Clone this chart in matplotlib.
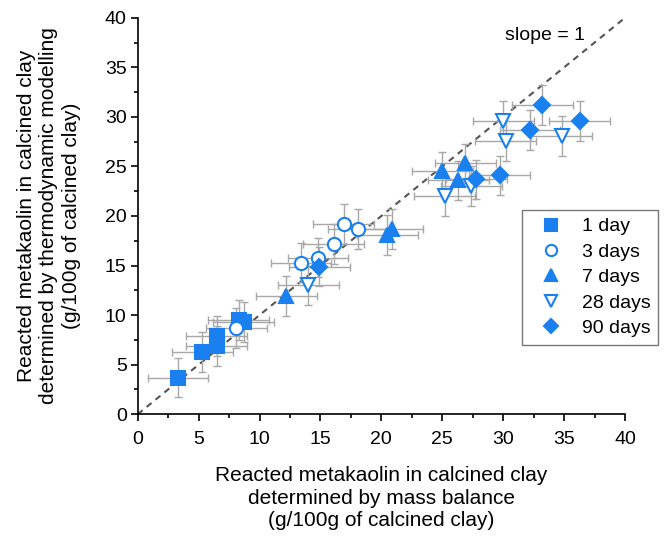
import matplotlib
matplotlib.use('Agg')
import matplotlib.pyplot as plt
import numpy as np
from matplotlib.ticker import MultipleLocator

plt.rcParams['font.family'] = ['Liberation Sans', 'DejaVu Sans']

# Data (x: mass balance, y: thermodynamic modelling)
x_1d = [3.3, 5.3, 6.5, 6.5, 8.3, 8.7]
y_1d = [3.7, 6.3, 6.9, 7.9, 9.5, 9.3]
x_3d = [8.1, 13.4, 14.8, 16.1, 16.9, 18.1]
y_3d = [8.7, 15.3, 15.8, 17.2, 19.2, 18.7]
x_7d = [12.2, 20.5, 20.9, 25.0, 26.9, 26.3]
y_7d = [11.9, 18.1, 18.7, 24.5, 25.3, 23.6]
x_28d = [14.0, 25.2, 27.4, 30.0, 30.2, 34.8]
y_28d = [13.0, 22.0, 23.0, 29.6, 27.6, 28.1]
x_90d = [14.9, 27.8, 29.7, 32.2, 33.2, 36.3]
y_90d = [14.9, 23.7, 24.1, 28.7, 31.2, 29.6]

x_err = 2.5
y_err = 2.0

blue = '#1a80f0'
grey = '#a8a8a8'

series = [
    (x_1d, y_1d, 's', 9.5, blue, '1 day'),
    (x_3d, y_3d, 'o', 9.5, 'white', '3 days'),
    (x_7d, y_7d, '^', 10.5, blue, '7 days'),
    (x_28d, y_28d, 'v', 10.5, 'white', '28 days'),
    (x_90d, y_90d, 'D', 8.5, blue, '90 days'),
]

fig = plt.figure(figsize=(6.72, 5.4), dpi=100)
ax = fig.add_axes([0.205, 0.233, 0.725, 0.734])

# slope = 1 line
ax.plot([0, 40], [0, 40], ls=(0, (3, 2.5)), color='#555555', lw=1.5, zorder=1)
ax.text(33.4, 38.2, 'slope = 1', ha='center', va='center', fontsize=14)

for xs, ys, m, ms, fc, lab in series:
    ax.errorbar(xs, ys, xerr=x_err, yerr=y_err, fmt='none', ecolor=grey,
                elinewidth=1, capsize=3, capthick=1, zorder=2)
    ax.plot(xs, ys, m, ms=ms, mfc=fc, mec=blue, mew=1.5, ls='none',
            label=lab, zorder=3)

ax.set_xlim(0, 40)
ax.set_ylim(0, 40)
ax.xaxis.set_major_locator(MultipleLocator(5))
ax.yaxis.set_major_locator(MultipleLocator(5))
ax.xaxis.set_minor_locator(MultipleLocator(2.5))
ax.yaxis.set_minor_locator(MultipleLocator(2.5))
ax.tick_params(which='major', direction='out', length=5, width=1.2, labelsize=14)
ax.tick_params(which='minor', direction='out', length=3, width=1.2)
ax.tick_params(axis='x', which='major', pad=7)
ax.tick_params(axis='y', which='major', pad=3)
ax.spines['top'].set_visible(False)
ax.spines['right'].set_visible(False)
for s in ['left', 'bottom']:
    ax.spines[s].set_linewidth(1.2)

ax.set_xlabel('Reacted metakaolin in calcined clay\ndetermined by mass balance\n(g/100g of calcined clay)',
              fontsize=15, linespacing=1.25, labelpad=13)
ax.set_ylabel('Reacted metakaolin in calcined clay\ndetermined by thermodynamic modelling\n(g/100g of calcined clay)',
              fontsize=15, linespacing=1.25, labelpad=17)

leg = ax.legend(loc='center right', bbox_to_anchor=(1.068, 0.345), fontsize=14,
                frameon=True, fancybox=False, edgecolor='#555555',
                handletextpad=0.45, borderpad=0.4, labelspacing=0.4,
                handlelength=2.2, borderaxespad=0, markerscale=0.85)
leg.get_frame().set_linewidth(1)

fig.savefig('out.png', dpi=100)
